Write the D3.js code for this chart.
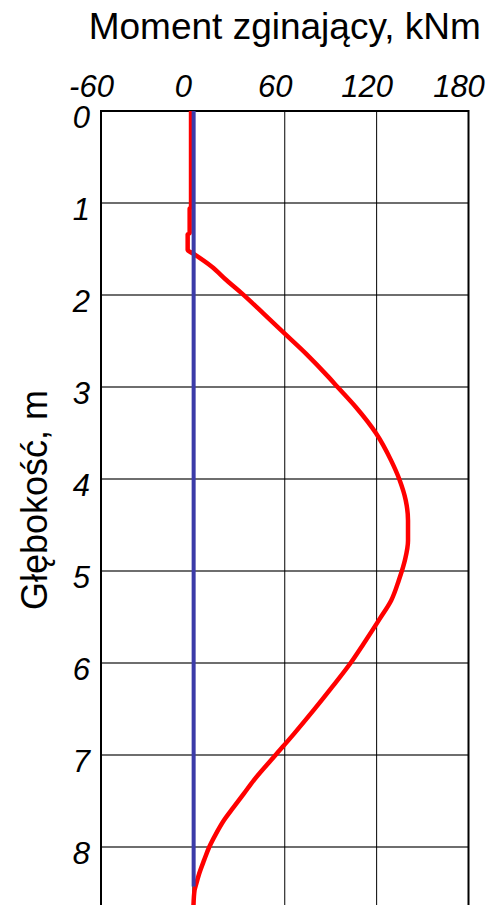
<!DOCTYPE html>
<html>
<head>
<meta charset="utf-8">
<script src="https://cdn.jsdelivr.net/npm/d3@7"></script>
<style>
  html, body { margin: 0; padding: 0; background: #fff; }
  svg { display: block; }
  text { font-family: "Liberation Sans", Arial, sans-serif; fill: #000; }
</style>
</head>
<body>
<svg id="chart" width="492" height="905"></svg>
<script>
// Bending moment along the wall depth
const depth = [0, 1.05, 1.06, 1.33, 1.34, 1.51, 1.55, 1.69, 1.84, 1.98, 2.2, 2.42, 2.64, 2.89, 3.0,
  3.22, 3.5, 3.8, 4.01, 4.23, 4.45, 4.67, 4.88, 5.1, 5.32, 5.52, 5.79, 6.0, 6.26, 6.51, 6.77, 7.0,
  7.27, 7.42, 7.57, 7.71, 7.86, 8.0, 8.14, 8.29, 8.4, 8.47, 8.63];
const moment = [-1.2, -1.2, -2.1, -2.1, -3.4, -3.4, 0.3, 12.2, 22, 31.8, 46, 60, 74, 88.5, 94.5,
  106.5, 119.5, 129.5, 135, 139, 140.5, 140.5, 138.5, 134.5, 129.5, 122, 111.5, 103, 91, 79, 66, 54,
  40, 33.3, 26.5, 20.3, 15, 10.7, 7.4, 4.1, 2.2, 1.1, 0.4];

// Reference line
const refDepth = [0, 8.43];
const refMoment = [0.5, 0.5];

const xTicks = [-60, 0, 60, 120, 180];
const yTicks = [0, 1, 2, 3, 4, 5, 6, 7, 8];
const xTitle = "Moment zginający, kNm";
const yTitle = "Głębokość, m";

const svg = d3.select("#chart");
const mLeft = 101, mRight = 468.5, mTop = 111, mBottom = 905;

const x = d3.scaleLinear().domain([-60, 180]).range([mLeft, mRight]);
const y = d3.scaleLinear().domain([0, 8.63]).range([mTop, mBottom]);

// plain hyphen for negative tick values
const fmt = d => String(d);

// horizontal grid
svg.append("g").selectAll("line")
  .data(yTicks.filter(d => d > 0))
  .join("line")
  .attr("x1", mLeft).attr("x2", mRight)
  .attr("y1", d => y(d)).attr("y2", d => y(d))
  .attr("stroke", "#6e6e6e").attr("stroke-width", 2);

// vertical grid
svg.append("g").selectAll("line")
  .data(xTicks.filter(d => d > -60 && d < 180))
  .join("line")
  .attr("x1", d => x(d)).attr("x2", d => x(d))
  .attr("y1", mTop).attr("y2", mBottom)
  .attr("stroke", "#000").attr("stroke-width", 1);

// frame (open at the bottom)
svg.append("path")
  .attr("d", `M${mLeft},${mBottom + 5}V${mTop}H${mRight}V${mBottom + 5}`)
  .attr("fill", "none").attr("stroke", "#000").attr("stroke-width", 2);

// x tick labels
const xAxis = svg.append("g")
  .attr("transform", `translate(0,${mTop})`)
  .call(d3.axisTop(x).tickValues(xTicks).tickSize(0).tickFormat(fmt));
xAxis.select(".domain").remove();
xAxis.selectAll("text")
  .attr("y", -14).attr("dy", 0).attr("dx", -10)
  .attr("font-size", 31).attr("font-style", "italic")
  .attr("font-family", "Liberation Sans, Arial, sans-serif")
  .attr("fill", "#000");

// y tick labels
const yAxis = svg.append("g")
  .attr("transform", `translate(${mLeft},0)`)
  .call(d3.axisLeft(y).tickValues(yTicks).tickSize(0).tickFormat(fmt));
yAxis.select(".domain").remove();
yAxis.selectAll("text")
  .attr("x", -11).attr("dy", 0).attr("y", 16)
  .attr("font-size", 31).attr("font-style", "italic")
  .attr("font-family", "Liberation Sans, Arial, sans-serif")
  .attr("fill", "#000");

// moment curve
const line = d3.line().x(d => x(d[1])).y(d => y(d[0]));
svg.append("path")
  .datum(depth.map((d, i) => [d, moment[i]]))
  .attr("d", line.curve(d3.curveMonotoneY))
  .attr("fill", "none").attr("stroke", "#ff0000").attr("stroke-width", 4.5)
  .attr("stroke-linejoin", "round");

// reference line
svg.append("path")
  .datum(refDepth.map((d, i) => [d, refMoment[i]]))
  .attr("d", d3.line().x(d => x(d[1])).y(d => y(d[0])))
  .attr("fill", "none").attr("stroke", "#3b3ba8").attr("stroke-width", 4);

// titles
svg.append("text")
  .attr("x", (mLeft + mRight) / 2).attr("y", 39)
  .attr("text-anchor", "middle").attr("font-size", 37)
  .text(xTitle);

svg.append("text")
  .attr("transform", `translate(47,500) rotate(-90)`)
  .attr("text-anchor", "middle").attr("font-size", 36)
  .text(yTitle);
</script>
</body>
</html>
